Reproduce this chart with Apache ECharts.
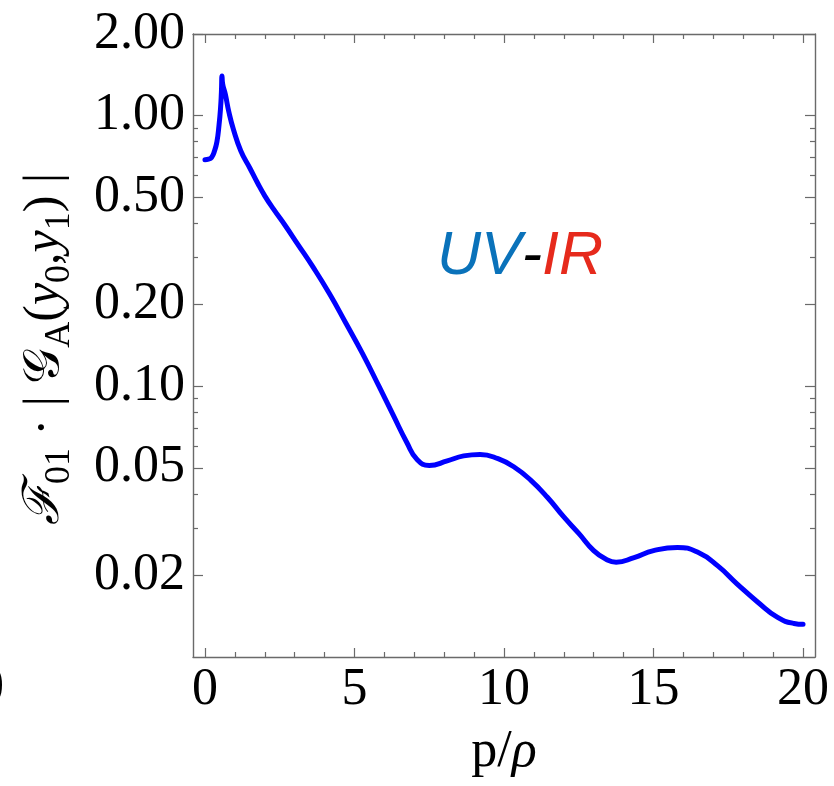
<!DOCTYPE html>
<html>
<head>
<meta charset="utf-8">
<script src="https://cdn.jsdelivr.net/npm/echarts@6/dist/echarts.min.js"></script>
<style>
html,body{margin:0;padding:0;background:#fff;}
#chart{width:834px;height:786px;}
</style>
</head>
<body>
<div id="chart"></div>
<script>
// p/rho values
const xValues = [0.0, 0.12, 0.22, 0.32, 0.40, 0.47, 0.52, 0.55, 0.57, 0.59, 0.68, 0.80, 0.95, 1.2, 1.5, 1.76, 2.0, 2.3, 2.7, 3.1, 3.6, 4.16, 4.7, 5.27, 5.83, 6.3, 6.75, 7.1, 7.5, 8.1, 8.65, 9.2, 9.8, 10.35, 10.9, 11.45, 12.0, 12.5, 13.0, 13.4, 13.75, 14.35, 15.0, 15.8, 16.5, 17.15, 17.8, 18.5, 19.15, 19.7, 20.0];
// F01 * |G_A(y0,y1)|
const yValues = [0.687, 0.69, 0.70, 0.74, 0.80, 0.92, 1.06, 1.22, 1.40, 1.31, 1.20, 1.03, 0.89, 0.74, 0.64, 0.563, 0.505, 0.45, 0.39, 0.335, 0.277, 0.220, 0.172, 0.132, 0.0994, 0.078, 0.062, 0.0535, 0.0510, 0.0530, 0.0553, 0.0560, 0.0540, 0.0502, 0.0449, 0.0389, 0.0329, 0.0286, 0.0247, 0.0230, 0.0224, 0.0233, 0.0247, 0.0254, 0.0243, 0.0217, 0.0186, 0.0159, 0.0140, 0.0133, 0.0132];

const xMajorTicks = [0, 5, 10, 15, 20];
const xMinorTicks = [1, 2, 3, 4, 6, 7, 8, 9, 11, 12, 13, 14, 16, 17, 18, 19];
const yMajorTicks = [2, 1, 0.5, 0.2, 0.1, 0.05, 0.02];
const yMinorTicks = [0.9, 0.8, 0.7, 0.6, 0.4, 0.3, 0.09, 0.08, 0.07, 0.06, 0.04, 0.03];

const frameColor = '#6a6a6a';
const labelFont = { fontFamily: 'Liberation Serif', fontSize: 52, color: '#000' };

function xAxisDef(pos, ticks, len, showLine, showLabel) {
  return {
    type: 'value', gridIndex: 0, position: pos, min: -0.4, max: 20.4,
    axisLine: { show: showLine, onZero: false, lineStyle: { color: frameColor, width: 1.4 } },
    axisTick: { show: true, inside: true, length: len, customValues: ticks, lineStyle: { color: frameColor, width: 1.2 } },
    axisLabel: showLabel ? Object.assign({ show: true, margin: 7, customValues: ticks, formatter: v => String(Math.round(v)) }, labelFont) : { show: false },
    splitLine: { show: false }
  };
}
function yAxisDef(pos, ticks, len, showLine, showLabel) {
  return {
    type: 'log', logBase: 10, gridIndex: 0, position: pos, min: 0.01, max: 2,
    axisLine: { show: showLine, onZero: false, lineStyle: { color: frameColor, width: 1.4 } },
    axisTick: { show: true, inside: true, length: len, customValues: ticks, lineStyle: { color: frameColor, width: 1.2 } },
    axisLabel: showLabel ? Object.assign({ show: true, margin: 8, customValues: ticks, formatter: v => Number(v).toFixed(2) }, labelFont) : { show: false },
    splitLine: { show: false }
  };
}

const chart = echarts.init(document.getElementById('chart'), null, { renderer: 'canvas' });
chart.setOption({
  backgroundColor: '#fff',
  animation: false,
  grid: { left: 193, top: 34, width: 622, height: 623, containLabel: false },
  xAxis: [
    xAxisDef('bottom', xMajorTicks, 9, true, true),
    xAxisDef('bottom', xMinorTicks, 5, false, false),
    xAxisDef('top', xMajorTicks, 9, true, false),
    xAxisDef('top', xMinorTicks, 5, false, false)
  ],
  yAxis: [
    yAxisDef('left', yMajorTicks, 10, true, true),
    yAxisDef('left', yMinorTicks, 5, false, false),
    yAxisDef('right', yMajorTicks, 10, true, false),
    yAxisDef('right', yMinorTicks, 5, false, false)
  ],
  series: [{
    type: 'line', xAxisIndex: 0, yAxisIndex: 0,
    data: xValues.map((x, i) => [x, yValues[i]]),
    showSymbol: false, smooth: 0.5,
    lineStyle: { color: '#0000ff', width: 5, join: 'round', cap: 'round' },
    itemStyle: { color: '#0000ff' }
  }],
  graphic: [
    {
      type: 'text', x: 504, y: 752,
      style: {
        text: '{n|p/}{i|ρ}', align: 'center', verticalAlign: 'middle',
        rich: {
          n: { fontFamily: 'Liberation Serif', fontSize: 52, fill: '#000' },
          i: { fontFamily: 'Liberation Serif', fontStyle: 'italic', fontSize: 52, fill: '#000' }
        }
      }
    },
    {
      type: 'text', x: 45, y: 349, rotation: Math.PI / 2,
      style: {
        text: '{f|ℱ}{s|01}{n| · | }{g|𝒢}{s|A}{n|(}{i|y}{s|0}{n|,}{i|y}{s|1}{n|) |}',
        align: 'center', verticalAlign: 'middle',
        rich: {
          f: { fontFamily: 'DejaVu Serif', fontStyle: 'italic', fontSize: 50, lineHeight: 66, verticalAlign: 'middle', fill: '#000' },
          g: { fontFamily: 'DejaVu Serif', fontSize: 50, lineHeight: 66, verticalAlign: 'middle', fill: '#000' },
          n: { fontFamily: 'Liberation Serif', fontSize: 50, lineHeight: 66, verticalAlign: 'middle', fill: '#000' },
          i: { fontFamily: 'Liberation Serif', fontStyle: 'italic', fontSize: 50, lineHeight: 66, verticalAlign: 'middle', fill: '#000' },
          s: { fontFamily: 'Liberation Serif', fontSize: 36, verticalAlign: 'bottom', fill: '#000' }
        }
      }
    },
    {
      type: 'text', x: 437, y: 257,
      style: {
        text: '{u|UV}{d|-}{r|IR}', align: 'left', verticalAlign: 'middle',
        rich: {
          u: { fontFamily: 'Liberation Sans', fontStyle: 'italic', fontSize: 61, fill: '#0a72ba' },
          d: { fontFamily: 'Liberation Sans', fontStyle: 'italic', fontSize: 61, fill: '#000' },
          r: { fontFamily: 'Liberation Sans', fontStyle: 'italic', fontSize: 61, fill: '#e62a1c' }
        }
      }
    },
    {
      type: 'text', x: -22, y: 688,
      style: { text: '0', align: 'left', verticalAlign: 'middle', fontFamily: 'Liberation Serif', fontSize: 52, fill: '#000' }
    }
  ]
});
</script>
</body>
</html>
